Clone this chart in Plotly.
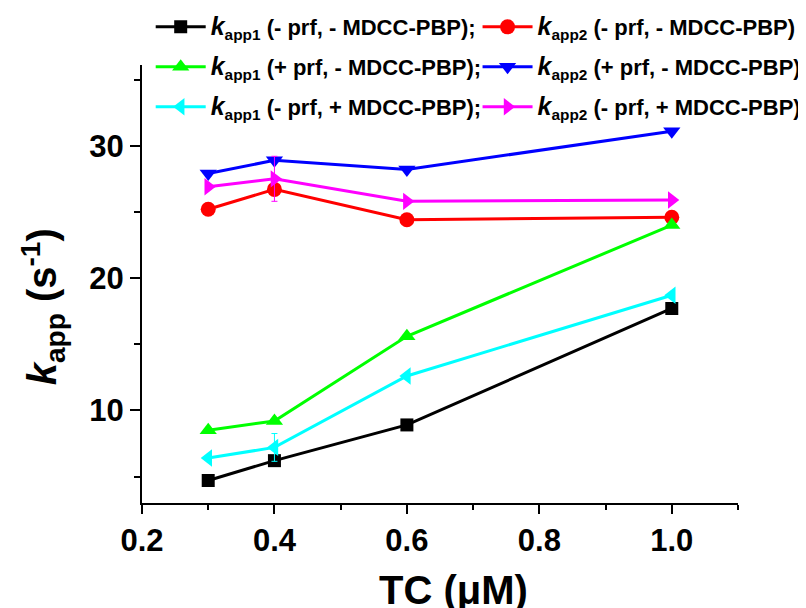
import plotly.graph_objects as go

tc = [0.3, 0.4, 0.6, 1.0]
k1_noprf_nomdcc = [4.7, 6.2, 8.9, 17.7]
k2_noprf_nomdcc = [25.2, 26.7, 24.4, 24.6]
k1_prf_nomdcc = [8.5, 9.2, 15.6, 24.0]
k2_prf_nomdcc = [27.9, 28.9, 28.2, 31.1]
k1_noprf_mdcc = [6.4, 7.2, 12.6, 18.7]
k2_noprf_mdcc = [26.9, 27.5, 25.8, 25.9]
err_k1_noprf_mdcc = [0, 1.05, 0, 0]
err_k2_noprf_mdcc = [0, 1.7, 0, 0]

K = '<span style="font-size:25px"><i>k</i></span>'
names = [
    K + "<sub>app1</sub> (- prf, - MDCC-PBP);",
    K + "<sub>app2</sub> (- prf, - MDCC-PBP)",
    K + "<sub>app1</sub> (+ prf, - MDCC-PBP);",
    K + "<sub>app2</sub> (+ prf, - MDCC-PBP)",
    K + "<sub>app1</sub> (- prf, + MDCC-PBP);",
    K + "<sub>app2</sub> (- prf, + MDCC-PBP)",
]
series = [k1_noprf_nomdcc, k2_noprf_nomdcc, k1_prf_nomdcc, k2_prf_nomdcc, k1_noprf_mdcc, k2_noprf_mdcc]
errors = [None, None, None, None, err_k1_noprf_mdcc, err_k2_noprf_mdcc]
colors = ["#000000", "#ff0000", "#00ff00", "#0000ff", "#00ffff", "#ff00ff"]
symbols = ["square", "circle", "triangle-up", "triangle-down", "triangle-left", "triangle-right"]
sizes = [13, 15, 15, 15, 15, 15]

FONT = "Liberation Sans, Arial, sans-serif"

# legend slot per trace: (column x in paper, row y in paper)
col_x = [0.0146, 0.563]
row_y = [1.0867, 0.9954, 0.9042]

fig = go.Figure()
legend_layouts = {}
for i, (name, ys, err, c, s, sz) in enumerate(zip(names, series, errors, colors, symbols, sizes)):
    lname = "legend" if i == 0 else f"legend{i+1}"
    fig.add_trace(go.Scatter(
        x=tc, y=ys, name=name, mode="lines+markers",
        line=dict(color=c, width=3),
        marker=dict(color=c, symbol=s, size=sz, line=dict(width=0)),
        error_y=(dict(type="data", array=err, visible=True, color=c, thickness=1, width=3)
                 if err is not None else None),
        legend=lname,
    ))
    legend_layouts[lname] = dict(
        x=col_x[i % 2], y=row_y[i // 2], xanchor="left", yanchor="middle",
        bgcolor="rgba(0,0,0,0)", borderwidth=0, itemwidth=50,
        font=dict(family=FONT, size=22, color="black", weight="bold"),
    )

fig.update_layout(
    width=798, height=600,
    margin=dict(l=134, r=68, t=57, b=105, autoexpand=False),
    paper_bgcolor="white", plot_bgcolor="white",
    font=dict(family=FONT, color="black", weight="bold"),
    showlegend=True,
    xaxis=dict(
        range=[0.2, 1.1], showgrid=False, zeroline=False,
        showline=True, linecolor="black", linewidth=2,
        ticks="outside", ticklen=9, tickwidth=2, tickcolor="black",
        tickvals=[0.2, 0.4, 0.6, 0.8, 1.0], ticktext=["0.2", "0.4", "0.6", "0.8", "1.0"],
        minor=dict(ticks="outside", ticklen=5, tickwidth=2, tickcolor="black", dtick=0.1, showgrid=False),
        tickfont=dict(family=FONT, size=31, color="black", weight="bold"),
    ),
    yaxis=dict(
        range=[3, 36.1], showgrid=False, zeroline=False,
        showline=True, linecolor="black", linewidth=2,
        ticks="outside", ticklen=10, tickwidth=2, tickcolor="black",
        tickvals=[10, 20, 30],
        minor=dict(ticks="outside", ticklen=6, tickwidth=2, tickcolor="black", tickvals=[5, 15, 25, 35], showgrid=False),
        tickfont=dict(family=FONT, size=31, color="black", weight="bold"),
    ),
    annotations=[
        dict(text="<i>k</i><sub>app</sub> (s<sup>-1</sup>)", xref="paper", yref="paper",
             x=-0.167, y=0.448, xanchor="center", yanchor="middle", textangle=-90,
             showarrow=False, font=dict(family=FONT, size=40, color="black", weight="bold")),
        dict(text="TC (μM)", xref="paper", yref="paper",
             x=0.522, y=-0.144, xanchor="center", yanchor="top",
             showarrow=False, font=dict(family=FONT, size=40, color="black", weight="bold")),
    ],
    **legend_layouts,
)

fig.write_html("out.html")
